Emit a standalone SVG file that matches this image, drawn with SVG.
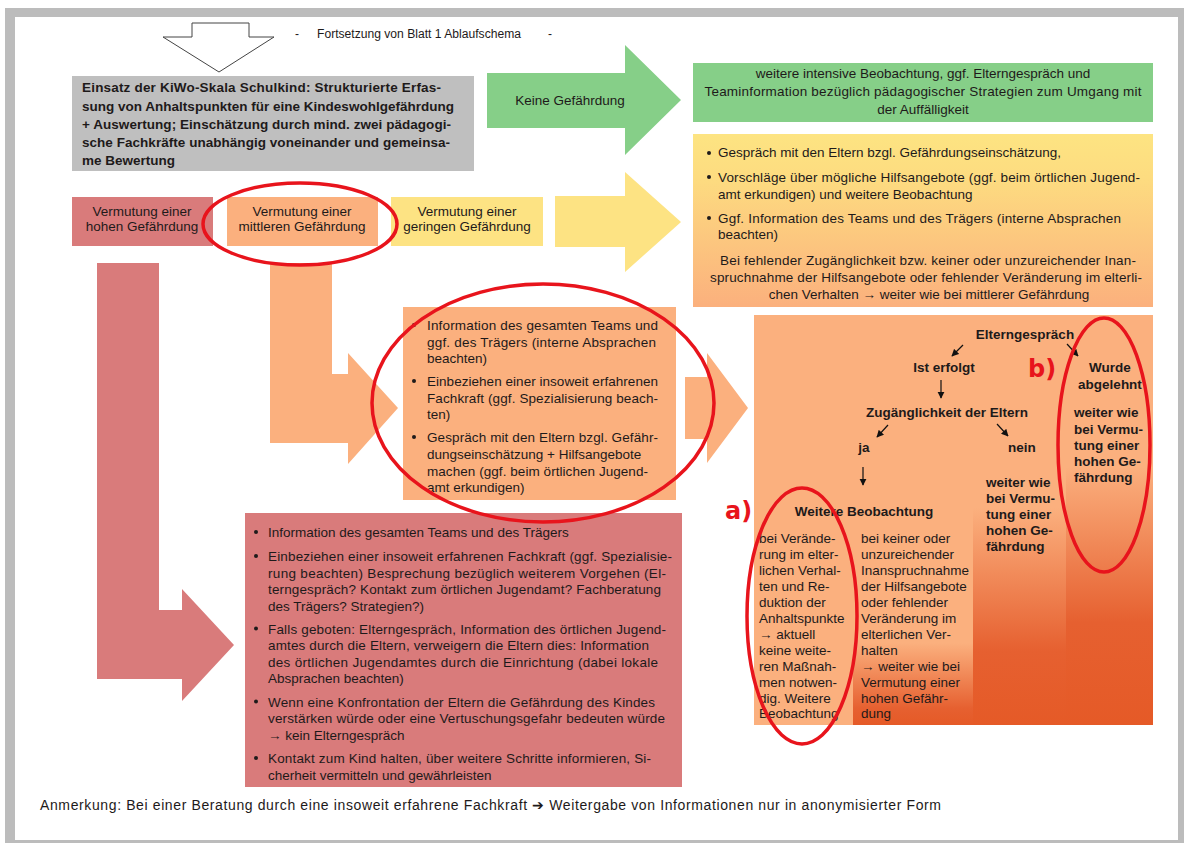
<svg xmlns="http://www.w3.org/2000/svg" width="1184" height="843" viewBox="0 0 1184 843">
<defs>
<style>
.t{font-family:"Liberation Sans",Arial,sans-serif;font-size:13.5px;fill:#1e1a1a}
.b{font-weight:bold}
.c{text-anchor:middle}
.ell{fill:none;stroke:#e8141c;stroke-width:3.5}
.lab{font-family:"DejaVu Sans",sans-serif;font-weight:bold;font-size:24px;fill:#e8141c}
.sm{stroke:#111;stroke-width:1.2;fill:none}
</style>
<linearGradient id="gY" x1="0" y1="0" x2="0" y2="1">
<stop offset="0" stop-color="#fde482"/><stop offset="0.25" stop-color="#fddc80"/><stop offset="1" stop-color="#fbb07d"/>
</linearGradient>
<linearGradient id="gA" x1="0" y1="0" x2="0" y2="1">
<stop offset="0" stop-color="#fbb07e"/><stop offset="0.8" stop-color="#fbb07e"/><stop offset="0.96" stop-color="#e66030"/><stop offset="1" stop-color="#e55a27"/>
</linearGradient>
<linearGradient id="gB" x1="0" y1="0" x2="0" y2="1">
<stop offset="0" stop-color="#fbb07e"/><stop offset="0.47" stop-color="#fbb07e"/><stop offset="0.82" stop-color="#e66030"/><stop offset="1" stop-color="#e55a27"/>
</linearGradient>
<linearGradient id="gC" x1="0" y1="0" x2="0" y2="1">
<stop offset="0" stop-color="#fbb07e"/><stop offset="0.37" stop-color="#fbb07e"/><stop offset="0.75" stop-color="#e66030"/><stop offset="1" stop-color="#e55a27"/>
</linearGradient>
<marker id="ah" viewBox="0 0 10 10" refX="9" refY="5" markerWidth="6" markerHeight="6" orient="auto">
<path d="M0,0 L10,5 L0,10 z" fill="#111"/>
</marker>
</defs>

<!-- page -->
<rect x="0" y="0" width="1184" height="843" fill="#ffffff"/>
<rect x="5" y="8" width="1179" height="835" fill="#bcbcbc"/>
<rect x="15" y="17" width="1163" height="823" fill="#ffffff"/>

<g id="connectors">
<polygon points="192,23 249,23 249,37 274,37 219,72 163,37 192,37" fill="#ffffff" stroke="#444" stroke-width="1"/>
<polygon points="487,73 625,73 625,45 681,100 625,155 625,128 487,128" fill="#86cf88"/>
<polygon points="555,196 625,196 625,172 681,222 625,272 625,247 555,247" fill="#fde383"/>
<polygon points="97,263 159,263 159,610 182,610 182,589 234,645 182,701 182,679 97,679" fill="#d97b7b"/>
<polygon points="270,263 332,263 332,374 348,374 348,353 398,408 348,464 348,443 270,443" fill="#fbb07e"/>
<polygon points="685,377 707,377 707,353 748,408 707,463 707,439 685,439" fill="#fbb07e"/>
</g>

<g id="header">
<text class="t" x="295" y="38" style="font-size:12px">-</text>
<text class="t" x="317" y="38" style="font-size:12px" textLength="204" lengthAdjust="spacingAndGlyphs">Fortsetzung von Blatt 1 Ablaufschema</text>
<text class="t" x="548" y="38" style="font-size:12px">-</text>
</g>

<g id="kiwo">
<rect x="72" y="76" width="402" height="95" fill="#bfbfbf"/>
<text class="t b" x="82" y="92" textLength="359">Einsatz der KiWo-Skala Schulkind: Strukturierte Erfas-</text>
<text class="t b" x="82" y="110.5" textLength="372">sung von Anhaltspunkten für eine Kindeswohlgefährdung</text>
<text class="t b" x="82" y="128.5" textLength="369">+ Auswertung; Einschätzung durch mind. zwei pädagogi-</text>
<text class="t b" x="82" y="147" textLength="368">sche Fachkräfte unabhängig voneinander und gemeinsa-</text>
<text class="t b" x="82" y="165">me Bewertung</text>
</g>

<g id="keine">
<text class="t c" x="570" y="105">Keine Gefährdung</text>
</g>

<g id="green-box">
<rect x="693" y="63" width="460" height="59" fill="#86cf88"/>
<text class="t c" x="923" y="78">weitere intensive Beobachtung, ggf. Elterngespräch und</text>
<text class="t c" x="923" y="96" textLength="437">Teaminformation bezüglich pädagogischer Strategien zum Umgang mit</text>
<text class="t c" x="923" y="114">der Auffälligkeit</text>
</g>

<g id="yellow-box">
<rect x="693" y="134" width="460" height="173" fill="url(#gY)"/>
<circle cx="709" cy="153" r="2" fill="#1e1a1a"/>
<text class="t" x="718" y="157">Gespräch mit den Eltern bzgl. Gefährdungseinschätzung,</text>
<circle cx="709" cy="177" r="2" fill="#1e1a1a"/>
<text class="t" x="718" y="182" textLength="422">Vorschläge über mögliche Hilfsangebote (ggf. beim örtlichen Jugend-</text>
<text class="t" x="718" y="199">amt erkundigen) und weitere Beobachtung</text>
<circle cx="709" cy="218" r="2" fill="#1e1a1a"/>
<text class="t" x="718" y="223" textLength="403">Ggf. Information des Teams und des Trägers (interne Absprachen</text>
<text class="t" x="718" y="239">beachten)</text>
<text class="t c" x="928" y="265" textLength="416">Bei fehlender Zugänglichkeit bzw. keiner oder unzureichender Inan-</text>
<text class="t c" x="926" y="282" textLength="432">spruchnahme der Hilfsangebote oder fehlender Veränderung im elterli-</text>
<text class="t c" x="929" y="299">chen Verhalten → weiter wie bei mittlerer Gefährdung</text>
</g>

<g id="hoch">
<rect x="72" y="197" width="141" height="49" fill="#d97b7b"/>
<text class="t c" x="142" y="216">Vermutung einer</text>
<text class="t c" x="142" y="231">hohen Gefährdung</text>
</g>
<g id="mittel">
<rect x="227" y="197" width="151" height="49" fill="#fbb07e"/>
<text class="t c" x="302" y="216">Vermutung einer</text>
<text class="t c" x="302" y="231">mittleren Gefährdung</text>
</g>
<g id="gering">
<rect x="391" y="197" width="152" height="49" fill="#fde383"/>
<text class="t c" x="467" y="216">Vermutung einer</text>
<text class="t c" x="467" y="231">geringen Gefährdung</text>
</g>

<g id="mittel-box">
<rect x="403" y="307" width="273" height="193" fill="#fbb07e"/>
<circle cx="414" cy="325" r="2" fill="#1e1a1a"/>
<text class="t" x="427" y="330" textLength="231">Information des gesamten Teams und</text>
<text class="t" x="427" y="347" textLength="229">ggf. des Trägers (interne Absprachen</text>
<text class="t" x="427" y="363">beachten)</text>
<circle cx="414" cy="381" r="2" fill="#1e1a1a"/>
<text class="t" x="427" y="386" textLength="231">Einbeziehen einer insoweit erfahrenen</text>
<text class="t" x="427" y="403" textLength="231">Fachkraft (ggf. Spezialisierung beach-</text>
<text class="t" x="427" y="419">ten)</text>
<circle cx="414" cy="437" r="2" fill="#1e1a1a"/>
<text class="t" x="427" y="442" textLength="231">Gespräch mit den Eltern bzgl. Gefähr-</text>
<text class="t" x="427" y="459">dungseinschätzung + Hilfsangebote</text>
<text class="t" x="427" y="476" textLength="221">machen (ggf. beim örtlichen Jugend-</text>
<text class="t" x="427" y="492">amt erkundigen)</text>
</g>

<g id="hoch-box">
<rect x="245" y="513" width="437" height="274" fill="#d97b7b"/>
<circle cx="256" cy="532" r="2" fill="#1e1a1a"/>
<text class="t" x="268" y="537">Information des gesamten Teams und des Trägers</text>
<circle cx="256" cy="556" r="2" fill="#1e1a1a"/>
<text class="t" x="268" y="561" textLength="404">Einbeziehen einer insoweit erfahrenen Fachkraft (ggf. Spezialisie-</text>
<text class="t" x="268" y="577.5" textLength="398">rung beachten) Besprechung bezüglich weiterem Vorgehen (El-</text>
<text class="t" x="268" y="594" textLength="393">terngespräch? Kontakt zum örtlichen Jugendamt? Fachberatung</text>
<text class="t" x="268" y="610.5">des Trägers? Strategien?)</text>
<circle cx="256" cy="628.5" r="2" fill="#1e1a1a"/>
<text class="t" x="268" y="633.5" textLength="398">Falls geboten: Elterngespräch, Information des örtlichen Jugend-</text>
<text class="t" x="268" y="650" textLength="381">amtes durch die Eltern, verweigern die Eltern dies: Information</text>
<text class="t" x="268" y="666.5" textLength="390">des örtlichen Jugendamtes durch die Einrichtung (dabei lokale</text>
<text class="t" x="268" y="683">Absprachen beachten)</text>
<circle cx="256" cy="701.5" r="2" fill="#1e1a1a"/>
<text class="t" x="268" y="706.5" textLength="387">Wenn eine Konfrontation der Eltern die Gefährdung des Kindes</text>
<text class="t" x="268" y="723" textLength="397">verstärken würde oder eine Vertuschungsgefahr bedeuten würde</text>
<text class="t" x="268" y="739.5">→ kein Elterngespräch</text>
<circle cx="256" cy="758" r="2" fill="#1e1a1a"/>
<text class="t" x="268" y="763" textLength="383">Kontakt zum Kind halten, über weitere Schritte informieren, Si-</text>
<text class="t" x="268" y="779.5">cherheit vermitteln und gewährleisten</text>
</g>

<g id="elterngespraech-box">
<rect x="754" y="315" width="399" height="410" fill="#fbb07e"/>
<rect x="853" y="315" width="120" height="410" fill="url(#gA)"/>
<rect x="973" y="315" width="93" height="410" fill="url(#gB)"/>
<rect x="1066" y="315" width="87" height="410" fill="url(#gC)"/>
<text class="t b c" x="1025" y="339">Elterngespräch</text>
<text class="t b c" x="944" y="372">Ist erfolgt</text>
<text class="t b c" x="947" y="417">Zugänglichkeit der Eltern</text>
<text class="t b c" x="864" y="452">ja</text>
<text class="t b c" x="1022" y="452">nein</text>
<text class="t b c" x="864" y="516">Weitere Beobachtung</text>
<text class="t b c" x="1110" y="372">Wurde</text>
<text class="t b c" x="1110" y="389">abgelehnt</text>
<g class="t b">
<text x="1074" y="417">weiter wie</text>
<text x="1074" y="434">bei Vermu-</text>
<text x="1074" y="450">tung einer</text>
<text x="1074" y="466">hohen Ge-</text>
<text x="1074" y="482">fährdung</text>
<text x="986" y="487">weiter wie</text>
<text x="986" y="503">bei Vermu-</text>
<text x="986" y="519">tung einer</text>
<text x="986" y="535">hohen Ge-</text>
<text x="986" y="551">fährdung</text>
</g>
<g class="t">
<text x="759" y="543">bei Verände-</text>
<text x="759" y="559">rung im elter-</text>
<text x="759" y="575">lichen Verhal-</text>
<text x="759" y="591">ten und Re-</text>
<text x="759" y="607">duktion der</text>
<text x="759" y="623">Anhaltspunkte</text>
<text x="759" y="639">→ aktuell</text>
<text x="759" y="655">keine weite-</text>
<text x="759" y="671">ren Maßnah-</text>
<text x="759" y="687">men notwen-</text>
<text x="759" y="703">dig. Weitere</text>
<text x="759" y="718">Beobachtung</text>
<text x="861" y="543">bei keiner oder</text>
<text x="861" y="559">unzureichender</text>
<text x="861" y="575">Inanspruchnahme</text>
<text x="861" y="591">der Hilfsangebote</text>
<text x="861" y="607">oder fehlender</text>
<text x="861" y="623">Veränderung im</text>
<text x="861" y="639">elterlichen Ver-</text>
<text x="861" y="655">halten</text>
<text x="861" y="671">→ weiter wie bei</text>
<text x="861" y="687">Vermutung einer</text>
<text x="861" y="703">hohen Gefähr-</text>
<text x="861" y="718">dung</text>
</g>
</g>

<g id="flow-arrows">
<line class="sm" x1="963" y1="345" x2="952" y2="356" marker-end="url(#ah)"/>
<line class="sm" x1="1067" y1="344" x2="1078" y2="356" marker-end="url(#ah)"/>
<line class="sm" x1="941" y1="380" x2="941" y2="398" marker-end="url(#ah)"/>
<line class="sm" x1="888" y1="425" x2="877" y2="437" marker-end="url(#ah)"/>
<line class="sm" x1="997" y1="424" x2="1008" y2="436" marker-end="url(#ah)"/>
<line class="sm" x1="863" y1="467" x2="863" y2="485" marker-end="url(#ah)"/>
</g>

<g id="annotations">
<ellipse class="ell" cx="300" cy="224" rx="97" ry="41"/>
<ellipse class="ell" cx="543" cy="403" rx="171" ry="119"/>
<ellipse class="ell" cx="802" cy="616" rx="55" ry="128"/>
<ellipse class="ell" cx="1104" cy="445" rx="46" ry="127"/>
<text class="lab" x="725" y="519">a)</text>
<text class="lab" x="1028" y="377">b)</text>
</g>

<g id="footer">
<text class="t" x="40" y="810" style="font-size:14px" textLength="901">Anmerkung: Bei einer Beratung durch eine insoweit erfahrene Fachkraft ➔ Weitergabe von Informationen nur in anonymisierter Form</text>
</g>
</svg>
